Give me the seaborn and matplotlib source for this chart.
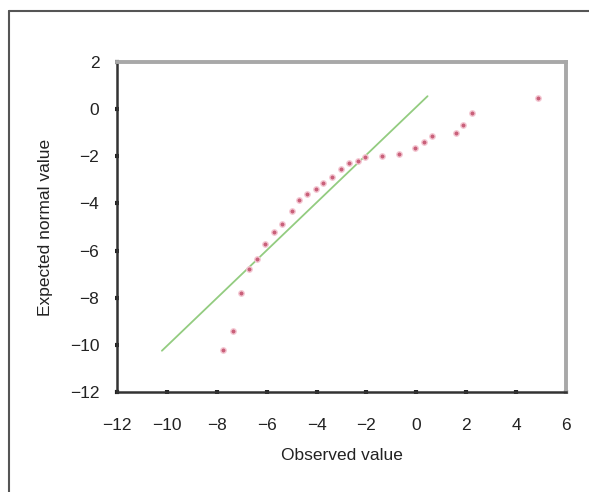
import matplotlib
matplotlib.use("Agg")
import matplotlib.pyplot as plt
import seaborn as sns
import pandas as pd
from matplotlib.lines import Line2D

observed = [-7.74, -7.34, -7.03, -6.70, -6.37, -6.05, -5.70, -5.38, -4.98, -4.69,
            -4.39, -4.03, -3.73, -3.37, -3.03, -2.69, -2.34, -2.04, -1.36, -0.69,
            -0.04, 0.31, 0.63, 1.58, 1.89, 2.25, 4.89]
expected = [-10.22, -9.41, -7.81, -6.80, -6.34, -5.72, -5.21, -4.87, -4.31, -3.85,
            -3.61, -3.40, -3.15, -2.89, -2.54, -2.30, -2.20, -2.04, -1.99, -1.90,
            -1.66, -1.38, -1.13, -1.03, -0.69, -0.18, 0.46]
line_x = [-10.2, 0.45]
line_y = [-10.25, 0.55]
x_ticks = [-12, -10, -8, -6, -4, -2, 0, 2, 4, 6]
y_ticks = [2, 0, -2, -4, -6, -8, -10, -12]

sns.set_style("white")
plt.rcParams['font.family'] = ['Liberation Sans', 'DejaVu Sans']
plt.rcParams['axes.unicode_minus'] = True

fig = plt.figure(figsize=(5.89, 4.92), dpi=100)
ax = fig.add_axes([117/589, 1 - 392/492, (566-117)/589, (392-62)/492])

pts = pd.DataFrame({"Observed value": observed, "Expected normal value": expected})
ln = pd.DataFrame({"x": line_x, "y": line_y})

sns.lineplot(data=ln, x="x", y="y", ax=ax, color="#93cc80", linewidth=1.3, zorder=2)
sns.scatterplot(data=pts, x="Observed value", y="Expected normal value", ax=ax,
                color="#c9607a", edgecolor="#f4c8d3", linewidth=1.0, s=15, marker="o",
                zorder=3)

ax.set_xlim(-12, 6)
ax.set_ylim(-12, 2)
ax.set_xticks(x_ticks)
ax.set_yticks(y_ticks)
ax.set_xticklabels([str(v).replace('-', '\u2212') for v in x_ticks])
ax.set_yticklabels([str(v).replace('-', '\u2212') for v in y_ticks])
ax.tick_params(axis='both', which='major', direction='inout', length=3.5, width=3,
               color='#222222', labelsize=12.5, labelcolor='#222222', pad=11,
               left=True, bottom=True)
ax.tick_params(axis='x', pad=17)
ax.set_xlabel("Observed value", fontsize=12.5, color='#222222', labelpad=11)
ax.set_ylabel("Expected normal value", fontsize=12.5, color='#222222', labelpad=12)

for side in ['left', 'bottom']:
    ax.spines[side].set_color('#333333')
    ax.spines[side].set_linewidth(1.8)
for side in ['top', 'right']:
    ax.spines[side].set_color('#a8a8a8')
    ax.spines[side].set_linewidth(2.8)
    ax.spines[side].set_visible(True)

# outer frame (left and top edges)
fig.add_artist(Line2D([8.5/589, 8.5/589], [0, 1 - 11/492], transform=fig.transFigure,
                      color='#555555', linewidth=1.5))
fig.add_artist(Line2D([8.5/589, 1.0], [1 - 11/492, 1 - 11/492], transform=fig.transFigure,
                      color='#555555', linewidth=1.5))

fig.savefig("out.png", dpi=100)
